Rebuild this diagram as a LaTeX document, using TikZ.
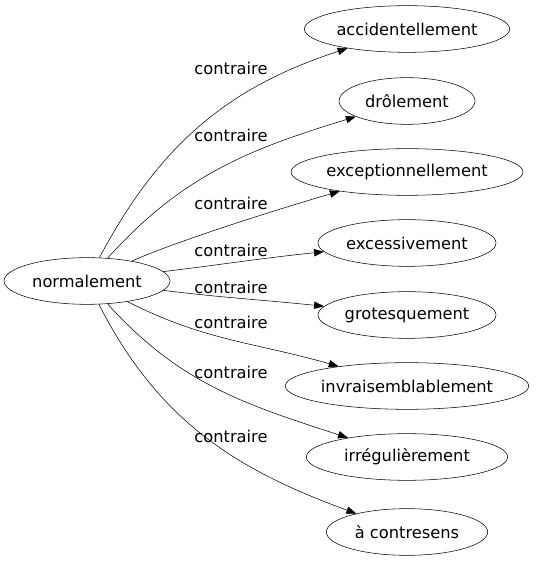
\documentclass[tikz,border=0pt]{standalone}
\usepackage{fontspec}
\setmainfont{DejaVu Sans}
\usepackage{tikz}
\usetikzlibrary{positioning,arrows.meta,shapes.geometric}

\begin{document}
\begin{tikzpicture}[
      x=0.75pt, y=0.75pt,
      font=\fontsize{12.2}{14}\selectfont,
      word/.style={draw, ellipse, inner sep=0pt, minimum height=35pt},
      rel/.style={inner sep=1pt},
      flow/.style={-{Triangle[length=7.5pt,width=5.5pt]}, black},
    ]
    \useasboundingbox (0,0) rectangle (536,563);
    \node[word, minimum width=124.5pt] (norm) at (87,282) {normalement};
    \node[word, minimum width=154pt] (acc) at (407,534) {accidentellement};
    \node[word, minimum width=102pt] (drol) at (407,462) {drôlement};
    \node[word, minimum width=174pt] (exce) at (407,391) {exceptionnellement};
    \node[word, minimum width=133.5pt] (exces) at (407,320) {excessivement};
    \node[word, minimum width=133.5pt] (grot) at (407,248) {grotesquement};
    \node[word, minimum width=182pt] (invr) at (407,177) {invraisemblablement};
    \node[word, minimum width=151pt] (irre) at (407,106) {irrégulièrement};
    \node[word, minimum width=121pt] (contr) at (407,31) {à contresens};
    % labels
    \node[rel] (l1) at (231,495) {contraire};
    \node[rel] (l2) at (231,428) {contraire};
    \node[rel] (l3) at (231,360) {contraire};
    \node[rel] (l4) at (231,313) {contraire};
    \node[rel] (l5) at (231,276) {contraire};
    \node[rel] (l6) at (231,241) {contraire};
    \node[rel] (l7) at (231,191) {contraire};
    \node[rel] (l8) at (231,127) {contraire};
    \draw[flow] (norm) to[out=62, in=198] (acc);
    \draw[flow] (norm) to[out=48, in=197] (drol);
    \draw[flow] (norm) to[out=24, in=196, looseness=0.6] (exce);
    \draw[flow] (norm) to[out=7, in=186] (exces);
    \draw[flow] (norm) to[out=-7, in=174] (grot);
    \draw[flow] (norm) to[out=-27, in=164] (invr);
    \draw[flow] (norm) to[out=-48, in=162] (irre);
    \draw[flow] (norm) to[out=-63, in=160] (contr);
  \end{tikzpicture}
\end{document}
